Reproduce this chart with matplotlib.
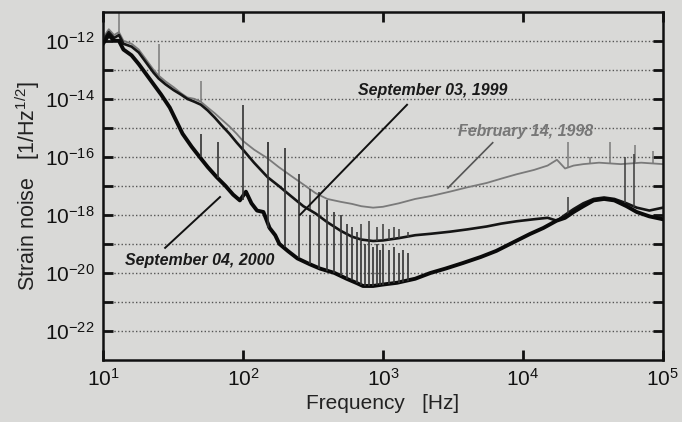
import numpy as np
import matplotlib
matplotlib.use("Agg")
import matplotlib.pyplot as plt
from matplotlib.ticker import FixedLocator, FixedFormatter, NullLocator

plt.rcParams['font.family'] = ['Liberation Sans', 'DejaVu Sans']
plt.rcParams['mathtext.fontset'] = 'custom'
plt.rcParams['mathtext.rm'] = 'Liberation Sans'
plt.rcParams['mathtext.it'] = 'Liberation Sans:italic'

# ---------------- data (log10 strain noise) ----------------
feb98_f = [10, 11, 12, 13, 14, 16, 18, 20, 23, 25, 28, 32, 36, 40, 45, 50, 56, 63, 70, 80, 90,
           100, 120, 150, 180, 220, 270, 330, 400, 500, 600, 700, 850, 1000, 1300, 1700, 2200,
           3000, 4000, 5500, 7000, 9000, 12000, 15000, 17500, 20000, 23000, 27000, 35000,
           50000, 70000, 100000]
feb98_h = [-11.9, -11.6, -11.8, -11.7, -12.0, -12.1, -12.3, -12.6, -13.0, -13.2, -13.4, -13.6,
           -13.8, -13.95, -14.0, -14.1, -14.3, -14.5, -14.7, -14.95, -15.2, -15.45, -15.75,
           -16.05, -16.35, -16.65, -16.95, -17.25, -17.45, -17.55, -17.62, -17.7, -17.75,
           -17.72, -17.6, -17.45, -17.35, -17.2, -17.05, -16.9, -16.75, -16.6, -16.45, -16.3,
           -16.1, -16.4, -16.3, -16.25, -16.2, -16.25, -16.2, -16.25]

sep99_f = [10, 11, 12, 13, 14, 16, 18, 20, 23, 25, 28, 32, 36, 40, 45, 50, 56, 63, 70, 80, 90,
           100, 120, 150, 180, 220, 270, 330, 400, 500, 600, 700, 850, 1000, 1300, 1700, 2200,
           3000, 4000, 5500, 7000, 9000, 12000, 15000, 17500, 20000, 23000, 27000, 32000,
           38000, 45000, 55000, 65000, 80000, 100000]
sep99_h = [-12.0, -11.7, -11.9, -11.8, -12.1, -12.2, -12.4, -12.7, -13.1, -13.3, -13.5, -13.7,
           -13.85, -14.0, -14.1, -14.2, -14.4, -14.65, -14.9, -15.2, -15.5, -15.75, -16.2,
           -16.7, -17.0, -17.35, -17.7, -17.95, -18.25, -18.55, -18.75, -18.85, -18.9, -18.88,
           -18.8, -18.7, -18.65, -18.58, -18.5, -18.4, -18.3, -18.22, -18.15, -18.1, -18.2,
           -18.0, -17.8, -17.6, -17.45, -17.4, -17.45, -17.6, -17.75, -17.85, -17.75]

sep00_f = [10, 11, 12, 13, 14, 16, 18, 20, 23, 26, 30, 37, 43, 49, 56, 65, 75, 85, 95, 105,
           115, 126, 140, 155, 170, 182, 210, 245, 300, 355, 450, 550, 650, 720, 850, 1000,
           1260, 1700, 2190, 2800, 3720, 5000, 6460, 8500, 11200, 14000, 17400, 20000, 23000,
           27000, 32000, 38000, 45000, 55000, 65000, 80000, 100000]
sep00_h = [-12.1, -11.8, -12.0, -12.0, -12.3, -12.5, -12.8, -13.1, -13.5, -13.85, -14.3, -15.2,
           -15.65, -16.0, -16.35, -16.7, -17.0, -17.3, -17.5, -17.2, -17.6, -17.85, -17.9,
           -18.45, -18.7, -19.0, -19.25, -19.5, -19.7, -19.85, -20.0, -20.2, -20.35, -20.45,
           -20.45, -20.4, -20.34, -20.2, -20.0, -19.85, -19.66, -19.45, -19.24, -18.95, -18.66,
           -18.45, -18.2, -18.1, -17.9, -17.7, -17.5, -17.45, -17.5, -17.7, -17.9, -18.05,
           -18.15]

# spectral lines: frequency, base, top (log10)
feb98_sp_f = [13, 25, 50, 150, 21000, 30000, 42000, 63000, 85000]
feb98_sp_lo = [-11.8, -13.2, -14.1, -16.05, -16.4, -16.25, -16.2, -16.2, -16.25]
feb98_sp_hi = [-11.05, -12.1, -13.4, -15.5, -15.5, -16.0, -15.5, -15.6, -15.8]

sep99_sp_f = [200, 250, 300, 700, 800, 900, 1000, 1100, 1200, 1300, 1500, 21000, 54000, 62000]
sep99_sp_lo = [-17.2, -17.55, -17.8, -18.85, -18.9, -18.9, -18.88, -18.85, -18.82, -18.8,
               -18.75, -18.05, -17.6, -17.72]
sep99_sp_hi = [-16.5, -16.9, -17.1, -18.3, -18.2, -18.4, -18.3, -18.5, -18.4, -18.5, -18.6,
               -17.4, -16.0, -15.9]

sep00_sp_f = [50, 66, 100, 150, 200, 250, 300, 350, 400, 450, 500, 550, 600, 650, 700, 750,
              800, 850, 900, 950, 1000, 1100, 1200, 1300, 1400, 1500]
sep00_sp_lo = [-16.0, -16.72, -17.5, -18.45, -19.1, -19.5, -19.7, -19.85, -19.95, -20.0,
               -20.1, -20.2, -20.25, -20.35, -20.4, -20.45, -20.45, -20.45, -20.42, -20.4,
               -20.4, -20.38, -20.36, -20.34, -20.3, -20.28]
sep00_sp_hi = [-15.2, -15.5, -14.2, -15.5, -15.7, -16.6, -18.0, -17.2, -17.5, -17.9, -18.0,
               -18.3, -18.4, -18.6, -18.9, -19.0, -18.9, -19.1, -19.0, -19.2, -19.0, -19.2,
               -19.1, -19.3, -19.2, -19.3]

ytick_exp = [-22, -21, -20, -19, -18, -17, -16, -15, -14, -13, -12]
xtick_exp = [1, 2, 3, 4, 5]

BG = '#d9d9d7'

fig = plt.figure(figsize=(6.82, 4.22), dpi=100, facecolor=BG)
ax = fig.add_axes([0.151, 0.147, 0.821, 0.825], facecolor=BG)

def p(v):
    return 10.0 ** np.asarray(v, dtype=float)

# grid
for e in ytick_exp:
    ax.axhline(10.0 ** e, color='#555555', lw=1.0, ls=(0, (1, 1.6)), zorder=1)

ax.plot(feb98_f, p(feb98_h), color='#7a7a7a', lw=1.3, zorder=2)
ax.vlines(feb98_sp_f, p(feb98_sp_lo), p(feb98_sp_hi), color='#7a7a7a', lw=1.1, zorder=2)
ax.plot(sep99_f, p(sep99_h), color='#151515', lw=1.9, zorder=3)
ax.vlines(sep99_sp_f, p(sep99_sp_lo), p(sep99_sp_hi), color='#3a3a3a', lw=1.1, zorder=3)
ax.plot(sep00_f, p(sep00_h), color='#0a0a0a', lw=2.8, zorder=4)
ax.vlines(sep00_sp_f, p(sep00_sp_lo), p(sep00_sp_hi), color='#333333', lw=1.2, zorder=4)

ax.set_xscale('log')
ax.set_yscale('log')
ax.set_xlim(10, 1e5)
ax.set_ylim(1e-23, 1e-11)

ax.xaxis.set_major_locator(FixedLocator([10.0 ** e for e in xtick_exp]))
ax.xaxis.set_major_formatter(FixedFormatter(['$10^{%d}$' % e for e in xtick_exp]))
ax.xaxis.set_minor_locator(NullLocator())
ax.yaxis.set_major_locator(FixedLocator([10.0 ** e for e in ytick_exp]))
ax.yaxis.set_major_formatter(FixedFormatter(['$10^{%d}$' % e if e % 2 == 0 else ''
                                             for e in ytick_exp]))
ax.yaxis.set_minor_locator(NullLocator())
ax.tick_params(axis='both', which='major', direction='in', length=7, width=2,
               labelsize=15, top=True, right=True, colors='#111111', pad=6)
for s in ax.spines.values():
    s.set_linewidth(1.8)
    s.set_color('#111111')

ax.set_xlabel('Frequency   [Hz]', fontsize=15, color='#222222', labelpad=3)
ax.set_ylabel('Strain noise   [1/Hz$^{1/2}$]', fontsize=15.5, color='#222222', labelpad=2)

tr = ax.transAxes
ax.plot([0.543, 0.352], [0.733, 0.417], color='#111111', lw=1.4, transform=tr, zorder=5)
ax.text(0.589, 0.773, 'September 03, 1999', transform=tr, fontsize=11.5, fontweight='bold',
        style='italic', color='#1a1a1a', ha='center', va='center', zorder=6)
ax.plot([0.696, 0.616], [0.624, 0.494], color='#555555', lw=1.2, transform=tr, zorder=5)
ax.text(0.754, 0.655, 'February 14, 1998', transform=tr, fontsize=11.5, fontweight='bold',
        style='italic', color='#777777', ha='center', va='center', zorder=6)
ax.plot([0.111, 0.209], [0.322, 0.468], color='#111111', lw=1.4, transform=tr, zorder=5)
ax.text(0.173, 0.287, 'September 04, 2000', transform=tr, fontsize=11.5, fontweight='bold',
        style='italic', color='#1a1a1a', ha='center', va='center', zorder=6)

fig.savefig('out.png', dpi=100, facecolor=BG)
